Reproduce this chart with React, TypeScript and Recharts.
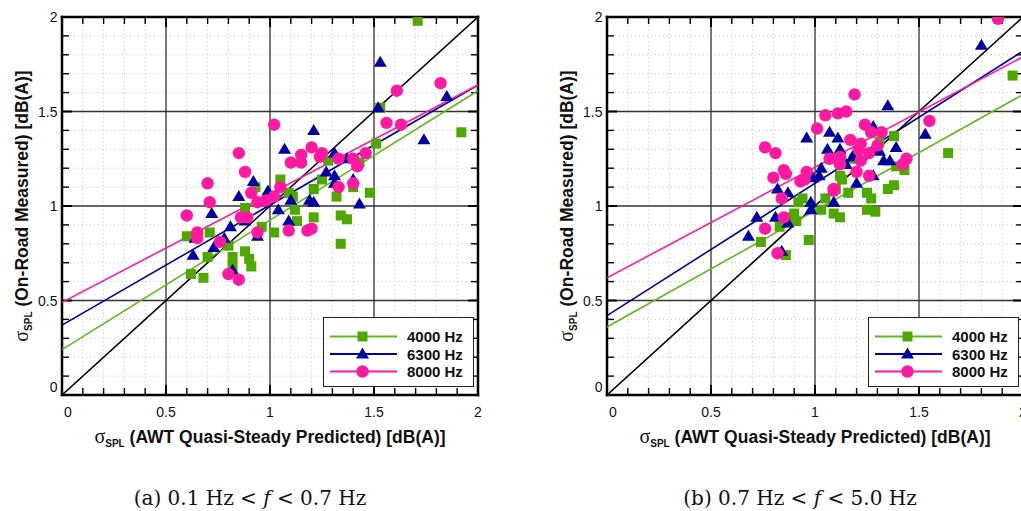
import React from 'react';
import { ScatterChart, Scatter, XAxis, YAxis, CartesianGrid, ReferenceLine } from 'recharts';

// ---------- data ----------
const seriesNames = ['4000 Hz', '6300 Hz', '8000 Hz'];
const markerColors = ['#4ea800', '#0000a0', '#ff18a0'];
const lineColors = ['#5fba1e', '#0000a0', '#ff18a0'];

const majorTicks = [0, 0.5, 1, 1.5, 2];
const majorTickLabels = ['0', '0.5', '1', '1.5', '2'];
const minorTicks = [0, 0.1, 0.2, 0.3, 0.4, 0.5, 0.6, 0.7, 0.8, 0.9, 1, 1.1, 1.2, 1.3, 1.4, 1.5, 1.6, 1.7, 1.8, 1.9, 2];

// panel (a): 0.1 Hz < f < 0.7 Hz
const a4000: [number, number][] = [
  [0.60, 0.84], [0.62, 0.64], [0.68, 0.62], [0.70, 0.73], [0.71, 0.86], [0.80, 0.79], [0.82, 0.73], [0.82, 0.68],
  [0.88, 0.76], [0.88, 0.99], [0.90, 0.72], [0.91, 0.68], [0.93, 1.10], [0.96, 0.89], [1.02, 0.86], [1.05, 1.14],
  [1.09, 1.07], [1.11, 1.05], [1.12, 0.98], [1.13, 0.92], [1.21, 1.09], [1.21, 0.94], [1.25, 1.14], [1.28, 1.24],
  [1.32, 1.05], [1.34, 0.95], [1.37, 0.93], [1.34, 0.80], [1.40, 1.10], [1.43, 1.23], [1.48, 1.07], [1.51, 1.33],
  [1.53, 1.52], [1.71, 1.98], [1.92, 1.39],
];
const a6300: [number, number][] = [
  [0.63, 0.74], [0.64, 0.83], [0.72, 0.96], [0.73, 0.78], [0.78, 0.83], [0.81, 0.89], [0.82, 0.66], [0.85, 1.05],
  [0.88, 0.92], [0.92, 1.13], [0.94, 0.84], [0.99, 1.08], [1.04, 0.98], [1.07, 1.30], [1.09, 0.92], [1.10, 1.03],
  [1.19, 1.03], [1.21, 1.02], [1.21, 1.40], [1.27, 1.18], [1.31, 1.16], [1.31, 1.28], [1.31, 1.12], [1.37, 1.25],
  [1.40, 1.14], [1.43, 1.01], [1.52, 1.52], [1.53, 1.76], [1.74, 1.35], [1.85, 1.58],
];
const a8000: [number, number][] = [
  [0.60, 0.95], [0.65, 0.86], [0.65, 0.83], [0.70, 1.12], [0.71, 1.02], [0.76, 0.81], [0.80, 0.64], [0.85, 0.61],
  [0.85, 1.28], [0.86, 0.94], [0.88, 1.18], [0.89, 0.94], [0.91, 1.07], [0.94, 0.86], [0.94, 1.02], [0.98, 1.03],
  [1.02, 1.43], [1.02, 1.05], [1.05, 1.10], [1.09, 0.87], [1.10, 1.23], [1.15, 1.27], [1.15, 1.23], [1.18, 0.87],
  [1.20, 0.88], [1.20, 1.31], [1.25, 1.28], [1.24, 1.26], [1.33, 1.25], [1.33, 1.10], [1.40, 1.25], [1.40, 1.12],
  [1.42, 1.21], [1.46, 1.28], [1.56, 1.44], [1.61, 1.61], [1.63, 1.43], [1.82, 1.65],
];
const fitStartA = [0.24, 0.37, 0.49];
const fitEndA = [1.61, 1.64, 1.64];

// panel (b): 0.7 Hz < f < 5.0 Hz
const b4000: [number, number][] = [
  [0.74, 0.81], [0.83, 0.89], [0.86, 0.74], [0.89, 0.94], [0.90, 0.96], [0.91, 0.92], [0.92, 1.02], [0.94, 1.04],
  [0.97, 0.82], [1.03, 0.98], [1.05, 1.04], [1.09, 0.96], [1.10, 1.09], [1.12, 1.16], [1.12, 0.94], [1.13, 1.14],
  [1.16, 1.07], [1.19, 1.25], [1.25, 1.07], [1.25, 0.98], [1.27, 1.04], [1.29, 0.97], [1.31, 1.34], [1.35, 1.09],
  [1.38, 1.11], [1.38, 1.37], [1.39, 1.21], [1.43, 1.19], [1.64, 1.28], [1.95, 1.69],
];
const b6300: [number, number][] = [
  [0.68, 0.84], [0.72, 0.94], [0.81, 0.94], [0.82, 1.09], [0.84, 0.76], [0.87, 1.07], [0.87, 0.91], [0.96, 1.36],
  [0.98, 1.02], [0.98, 0.98], [0.99, 1.15], [1.02, 1.16], [1.03, 1.20], [1.06, 1.30], [1.07, 1.39], [1.09, 1.02],
  [1.11, 1.36], [1.12, 1.30], [1.15, 1.22], [1.18, 1.26], [1.20, 1.12], [1.28, 1.16], [1.28, 1.42], [1.31, 1.29],
  [1.33, 1.24], [1.35, 1.53], [1.36, 1.24], [1.39, 1.31], [1.53, 1.38], [1.80, 1.85],
];
const b8000: [number, number][] = [
  [0.76, 1.31], [0.76, 0.88], [0.80, 1.15], [0.81, 1.28], [0.82, 0.75], [0.84, 1.04], [0.85, 0.94], [0.85, 1.19],
  [0.86, 1.17], [0.93, 1.13], [0.95, 1.14], [0.96, 1.18], [1.01, 1.41], [1.05, 1.48], [1.07, 1.25], [1.09, 1.09],
  [1.09, 1.08], [1.11, 1.49], [1.12, 1.26], [1.12, 1.22], [1.15, 1.50], [1.17, 1.35], [1.19, 1.59], [1.20, 1.18],
  [1.21, 1.30], [1.22, 1.33], [1.22, 1.24], [1.24, 1.43], [1.26, 1.16], [1.26, 1.28], [1.27, 1.39], [1.30, 1.32],
  [1.32, 1.39], [1.42, 1.22], [1.44, 1.25], [1.55, 1.45], [1.88, 1.99],
];
const fitStartB = [0.36, 0.42, 0.62];
const fitEndB = [1.59, 1.82, 1.79];

const fitX = [0, 2];
const diagX = [0, 2];
const diagY = [0, 2];

const xTitle = ' (AWT Quasi-Steady Predicted) [dB(A)]';
const yTitle = ' (On-Road Measured) [dB(A)]';
const captionA = ['(a) 0.1 Hz < ', 'f', ' < 0.7 Hz'];
const captionB = ['(b) 0.7 Hz < ', 'f', ' < 5.0 Hz'];

// ---------- styles ----------
const SANS = 'Liberation Sans, Arial, Helvetica, sans-serif';
const SERIF = 'DejaVu Serif, serif';
const GRID = '#333';

const isMajor = (v: number) => majorTicks.includes(v);
const labelOf = (v: number) => majorTickLabels[majorTicks.indexOf(v)];
const domainMin = majorTicks[0];
const domainMax = majorTicks[majorTicks.length - 1];
const innerTicks = minorTicks.filter((v) => v > domainMin && v < domainMax);

const BottomLabel = (props: any) => {
  const { x, y, payload } = props;
  const v = payload.value;
  return (
    <text x={v === 0 ? x + 6 : x} y={y + 22} textAnchor="middle" fontFamily={SANS} fontSize={14} fill="#111">
      {labelOf(v)}
    </text>
  );
};
const LeftLabel = (props: any) => {
  const { x, y, payload } = props;
  const v = payload.value;
  return (
    <text x={x - 4.5} y={v === 0 ? y - 3 : y + 5} textAnchor="end" fontFamily={SANS} fontSize={14} fill="#111">
      {labelOf(v)}
    </text>
  );
};

// vertical reference line: grid line (major only) + inward ticks at top and bottom frame
const vTickShape = (major: boolean) => (p: any) => {
  const x = p.x1;
  const top = Math.min(p.y1, p.y2);
  const bot = Math.max(p.y1, p.y2);
  const len = major ? 10 : 7;
  const w = major ? 2 : 1.4;
  return (
    <g>
      {major && <line x1={x} x2={x} y1={top} y2={bot} stroke={GRID} strokeWidth={1.3} />}
      <line x1={x} x2={x} y1={top} y2={top + len} stroke="#000" strokeWidth={w} />
      <line x1={x} x2={x} y1={bot} y2={bot - len} stroke="#000" strokeWidth={w} />
    </g>
  );
};
// horizontal reference line: grid line (major only) + inward ticks at left and right frame
const hTickShape = (major: boolean) => (p: any) => {
  const y = p.y1;
  const lft = Math.min(p.x1, p.x2);
  const rgt = Math.max(p.x1, p.x2);
  const len = major ? 10 : 7;
  const w = major ? 2 : 1.4;
  return (
    <g>
      {major && <line x1={lft} x2={rgt} y1={y} y2={y} stroke={GRID} strokeWidth={1.3} />}
      <line x1={lft} x2={lft + len} y1={y} y2={y} stroke="#000" strokeWidth={w} />
      <line x1={rgt} x2={rgt - len} y1={y} y2={y} stroke="#000" strokeWidth={w} />
    </g>
  );
};
// frame edge: full black line
const frameShape = (p: any) => (
  <line x1={p.x1} x2={p.x2} y1={p.y1} y2={p.y2} stroke="#000" strokeWidth={2.5} strokeLinecap="square" />
);
const vMajor = vTickShape(true);
const vMinor = vTickShape(false);
const hMajor = hTickShape(true);
const hMinor = hTickShape(false);

const drawMarker = (i: number, cx: number, cy: number) => {
  const c = markerColors[i];
  if (i === 0) return <rect x={cx - 5} y={cy - 5} width={10} height={10} fill={c} />;
  if (i === 1) return <polygon points={`${cx},${cy - 6.5} ${cx + 6.5},${cy + 4.5} ${cx - 6.5},${cy + 4.5}`} fill={c} />;
  return <circle cx={cx} cy={cy} r={6.2} fill={c} />;
};
const shapeFns = [0, 1, 2].map((i) => (p: any) => <g>{drawMarker(i, p.cx, p.cy)}</g>);
const EmptyShape = () => <g />;

const LegendBox = () => (
  <svg style={{ position: 'absolute', left: 323, top: 317 }} width={151} height={70}>
    <rect x={0.5} y={0.5} width={150} height={69} fill="#fff" stroke="#222" strokeWidth={1} />
    {seriesNames.map((n, i) => {
      const cy = 19.5 + i * 17.5;
      return (
        <g key={n}>
          <line x1={7} x2={74} y1={cy} y2={cy} stroke={lineColors[i]} strokeWidth={2} />
          {drawMarker(i, 39.5, cy)}
          <text x={84} y={cy + 5.5} fontFamily={SANS} fontWeight="bold" fontSize={15} fill="#111">
            {n}
          </text>
        </g>
      );
    })}
  </svg>
);

const Titles = () => (
  <svg style={{ position: 'absolute', left: 0, top: 0, pointerEvents: 'none' }} width={500} height={450}>
    <text x={270} y={443} textAnchor="middle" fill="#111">
      <tspan fontFamily="Liberation Serif, serif" fontSize={20}>σ</tspan>
      <tspan fontFamily={SANS} fontWeight="bold" fontSize={10} dy={4}>SPL</tspan>
      <tspan fontFamily={SANS} fontWeight="bold" fontSize={17.5} dy={-4}>{xTitle}</tspan>
    </text>
    <text x={22} y={212} textAnchor="middle" fill="#111" transform="rotate(-90, 22, 206)">
      <tspan fontFamily="Liberation Serif, serif" fontSize={20}>σ</tspan>
      <tspan fontFamily={SANS} fontWeight="bold" fontSize={10} dy={4}>SPL</tspan>
      <tspan fontFamily={SANS} fontWeight="bold" fontSize={17.5} dy={-4}>{yTitle}</tspan>
    </text>
  </svg>
);

function Panel({ series, fitStart, fitEnd, left }: { series: [number, number][][]; fitStart: number[]; fitEnd: number[]; left: number }) {
  const data = series.map((s) => s.map(([x, y]) => ({ x, y })));
  const fits = fitStart.map((s, i) => [
    { x: fitX[0], y: s },
    { x: fitX[1], y: fitEnd[i] },
  ]);
  const diag = diagX.map((x, i) => ({ x, y: diagY[i] }));
  return (
    <div style={{ position: 'absolute', left, top: 0, width: 500, height: 450 }}>
      <ScatterChart width={500} height={450} margin={{ top: 17, right: 22, bottom: 0, left: 0 }}>
        <CartesianGrid stroke="#c8c8c8" strokeDasharray="1 3" verticalValues={minorTicks} horizontalValues={minorTicks} />
        <XAxis
          dataKey="x"
          type="number"
          domain={[0, 2]}
          allowDataOverflow
          ticks={minorTicks}
          interval={0}
          tickSize={0}
          tickMargin={0}
          tickLine={false}
          axisLine={false}
          height={55}
          tick={(p: any) => (isMajor(p.payload.value) ? <BottomLabel {...p} /> : <g />)}
        />
        <YAxis
          dataKey="y"
          type="number"
          domain={[0, 2]}
          allowDataOverflow
          ticks={minorTicks}
          interval={0}
          tickSize={0}
          tickMargin={0}
          tickLine={false}
          axisLine={false}
          width={62}
          tick={(p: any) => (isMajor(p.payload.value) ? <LeftLabel {...p} /> : <g />)}
        />
        {innerTicks.map((v) => (
          <ReferenceLine key={'vx' + v} x={v} shape={isMajor(v) ? vMajor : vMinor} />
        ))}
        {innerTicks.map((v) => (
          <ReferenceLine key={'hy' + v} y={v} shape={isMajor(v) ? hMajor : hMinor} />
        ))}
        <ReferenceLine x={domainMin} shape={frameShape} />
        <ReferenceLine x={domainMax} shape={frameShape} />
        <ReferenceLine y={domainMin} shape={frameShape} />
        <ReferenceLine y={domainMax} shape={frameShape} />
        <Scatter data={diag} line={{ stroke: '#000', strokeWidth: 1.6 }} shape={EmptyShape} legendType="none" isAnimationActive={false} />
        {fits.map((f, i) => (
          <Scatter key={'fit' + i} data={f} line={{ stroke: lineColors[i], strokeWidth: 1.6 }} shape={EmptyShape} legendType="none" isAnimationActive={false} />
        ))}
        {data.map((d, i) => (
          <Scatter key={seriesNames[i]} name={seriesNames[i]} data={d} fill={markerColors[i]} shape={shapeFns[i]} isAnimationActive={false} />
        ))}
      </ScatterChart>
      <LegendBox />
      <Titles />
    </div>
  );
}

const Caption = ({ parts, cx }: { parts: string[]; cx: number }) => (
  <text x={cx} y={505} textAnchor="middle" fontFamily={SERIF} fontSize={20} fill="#111">
    <tspan>{parts[0]}</tspan>
    <tspan fontStyle="italic">{parts[1]}</tspan>
    <tspan>{parts[2]}</tspan>
  </text>
);

export default function App() {
  return (
    <div style={{ position: 'absolute', left: 0, top: 0, width: 1021, height: 511, overflow: 'hidden', background: '#fff' }}>
      <Panel series={[a4000, a6300, a8000]} fitStart={fitStartA} fitEnd={fitEndA} left={0} />
      <Panel series={[b4000, b6300, b8000]} fitStart={fitStartB} fitEnd={fitEndB} left={545} />
      <svg style={{ position: 'absolute', left: 0, top: 0, pointerEvents: 'none' }} width={1021} height={511}>
        <Caption parts={captionA} cx={250} />
        <Caption parts={captionB} cx={800} />
      </svg>
    </div>
  );
}
